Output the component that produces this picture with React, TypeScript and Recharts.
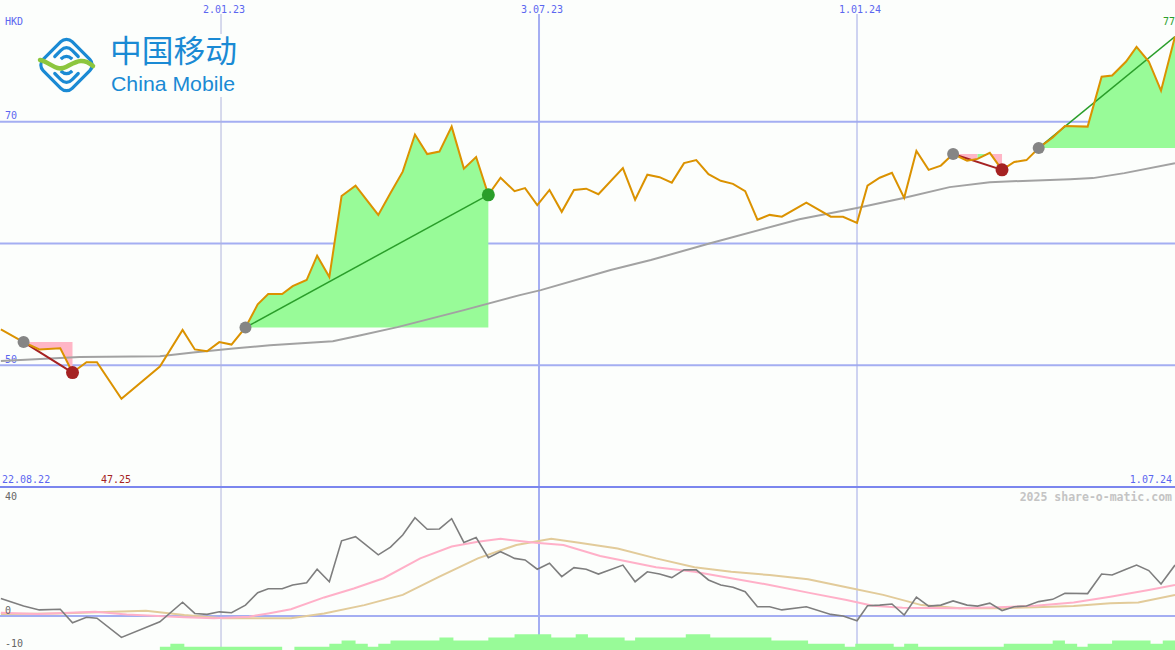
import React from 'react';
import { ComposedChart, Line, Area, XAxis, YAxis, ReferenceLine } from 'recharts';

// x values are days counted from 22.08.22
const priceDays = [
  7, 20, 29, 41, 48, 56, 62, 76, 98, 111,
  118, 125, 132, 139, 147, 154, 160, 168, 174, 182,
  188, 195, 202, 210, 223, 230, 237, 244, 251, 258,
  265, 272, 279, 286, 293, 301, 307, 314, 321, 328,
  335, 342, 349, 363, 370, 377, 384, 391, 398, 405,
  412, 419, 426, 433, 440, 447, 454, 468, 482, 489,
  497, 503, 510, 517, 524, 531, 538, 545, 552, 560,
  566, 573, 580, 587, 594, 601, 609, 616, 629, 637,
  643, 651, 657, 664, 671, 679,
];
const priceClose = [
  52.95, 51.9, 51.3, 51.4, 49.4, 50.25, 50.25, 47.25, 49.9, 52.9,
  51.3, 51.15, 51.9, 51.7, 53.1, 55.0, 55.85, 55.85, 56.5, 57.0,
  59.0, 57.25, 63.9, 64.75, 62.35, 64.15, 65.9, 68.95, 67.35, 67.55,
  69.6, 66.15, 67.1, 64.0, 65.4, 64.3, 64.55, 63.15, 64.4, 62.6,
  64.4, 64.5, 64.05, 66.2, 63.6, 65.65, 65.45, 65.0, 66.6, 66.85,
  65.7, 65.15, 64.9, 64.3, 61.95, 62.35, 62.2, 63.35, 62.2, 62.2,
  61.7, 64.75, 65.4, 65.8, 63.75, 67.6, 66.05, 66.4, 67.35, 66.8,
  66.95, 67.45, 66.05, 66.7, 66.85, 67.85, 68.7, 69.65, 69.6, 73.7,
  73.8, 74.95, 76.15, 74.95, 72.55, 77.0,
];
// distance of the close from the long average, in percent
const momentum = [
  5.5, 3.1, 1.9, 2.1, -2.1, -0.4, -0.7, -6.7, -1.8, 4.3,
  0.8, 0.5, 1.3, 1.0, 3.4, 7.3, 8.5, 8.5, 9.7, 10.4,
  14.6, 10.7, 23.5, 24.8, 19.1, 21.5, 25.3, 30.7, 27.1, 27.2,
  30.4, 23.0, 24.5, 18.2, 20.1, 18.0, 17.5, 14.6, 16.5, 12.3,
  15.1, 14.6, 13.1, 15.9, 10.7, 13.8, 13.1, 12.0, 14.4, 14.4,
  11.25, 9.7, 9.0, 7.6, 2.9, 2.9, 1.9, 2.9, 0.5, 0.0,
  -1.5, 3.2, 3.4, 3.75, 0.3, 5.9, 3.1, 3.4, 4.7, 3.4,
  3.1, 4.0, 1.7, 2.9, 3.1, 4.5, 5.2, 7.1, 7.0, 13.1,
  12.8, 14.6, 15.9, 14.2, 10.0, 15.9,
];

const maDays = [7, 52, 98, 117, 140, 161, 197, 213, 234, 272, 304, 316, 356, 379, 413, 464, 497, 523, 550, 573, 619, 632, 650, 679];
const maValues = [50.35, 50.68, 50.74, 51.05, 51.37, 51.65, 51.98, 52.47, 53.13, 54.53, 55.76, 56.17, 57.82, 58.64, 60.02, 61.99, 62.92, 63.72, 64.63, 65.04, 65.28, 65.37, 65.78, 66.6];

const fastDays = [7, 28, 61, 79, 112, 129, 149, 160, 173, 192, 209, 226, 247, 265, 280, 293, 313, 329, 350, 382, 404, 425, 447, 469, 491, 506, 523, 556, 578, 599, 621, 642, 664, 679];
const fastValues = [1.0, 0.6, 1.3, 0.5, -0.4, -0.7, -0.2, 0.8, 2.1, 5.8, 8.6, 11.8, 18.0, 21.7, 23.2, 24.1, 22.9, 22.2, 18.75, 15.2, 13.8, 11.8, 9.7, 7.3, 5.0, 3.2, 2.6, 2.4, 2.7, 3.2, 4.2, 6.0, 8.1, 9.7];

const slowDays = [7, 39, 90, 112, 134, 173, 192, 215, 237, 258, 280, 302, 322, 338, 360, 382, 404, 425, 447, 469, 491, 512, 534, 556, 578, 599, 621, 642, 658, 679];
const slowValues = [0.6, 0.8, 1.6, 0.3, -0.7, -0.7, 0.8, 3.4, 6.6, 12.3, 18.0, 22.2, 24.1, 22.9, 21.1, 18.0, 15.2, 13.8, 12.8, 11.5, 9.0, 6.6, 3.4, 2.4, 2.4, 2.7, 3.1, 4.0, 4.2, 6.6];

const volDays = [98, 104, 112, 168, 175, 195, 202, 210, 217, 223, 230, 258, 266, 286, 301, 322, 336, 343, 364, 370, 399, 413, 448, 469, 490, 496, 518, 524, 532, 581, 609, 616, 623, 629, 643, 665, 672, 679];
const volLevels = [1, 2, 1, 0, 1, 2, 3, 2, 1, 2, 3, 4, 3, 4, 5, 4, 5, 4, 3, 4, 5, 4, 3, 2, 1, 2, 1, 2, 1, 2, 3, 2, 1, 2, 3, 2, 3, 3];

// trade signals: entry day, exit day (last one still open)
const signalEntryDays = [20, 147, 552, 601];
const signalExitDays = [48, 286, 580, 679];
const signalOpen = [false, false, false, true];

const dateTicks = [133, 315, 497];
const dateTickLabels = ['2.01.23', '3.07.23', '1.01.24'];
const priceGrid = [70, 60, 50];
const priceGridLabels = ['70', '', '50'];

const W = 1175;
const TOP_H = 487;
const BOT_H = 163;
const X_DOMAIN: [number, number] = [6.5, 679];
const PRICE_DOMAIN: [number, number] = [40, 80];
const OSC_DOMAIN: [number, number] = [-10.625, 40.3];

const BG = '#fcfefc';
const GRID = '#a4aef2';
const BLUE_TEXT = '#5b66f0';
const MONO = '"DejaVu Sans Mono", monospace';
const GREEN_FILL = '#98fb98';
const PINK_FILL = '#ffb6c6';
const PROFIT = '#2a9e2a';
const LOSS = '#a52222';
const LOGO_BLUE = '#1a8ad4';
const M = { top: 0, right: 0, bottom: 0, left: 0 };

const prices = priceDays.map((day, i) => ({ day, close: priceClose[i], osc: momentum[i] }));
const maData = maDays.map((day, i) => ({ day, v: maValues[i] }));
const fastData = fastDays.map((day, i) => ({ day, v: fastValues[i] }));
const slowData = slowDays.map((day, i) => ({ day, v: slowValues[i] }));
const volData = volDays.map((day, i) => ({ day, vol: volLevels[i] }));

const closeOn = (day: number) => prices.find(p => p.day === day)!.close;

// fill between the entry level and the price, coloured per segment
type Run = { color: string; data: { day: number; band: [number, number] }[] };
const fillRuns: Run[] = [];
signalEntryDays.forEach((d0, s) => {
  const pts = prices.filter(p => p.day >= d0 && p.day <= signalExitDays[s]);
  const entry = pts[0].close;
  let cur: Run | null = null;
  for (let i = 1; i < pts.length; i++) {
    const color = pts[i].close >= entry ? GREEN_FILL : PINK_FILL;
    if (!cur || cur.color !== color) {
      cur = { color, data: [{ day: pts[i - 1].day, band: [entry, pts[i - 1].close] }] };
      fillRuns.push(cur);
    }
    cur.data.push({ day: pts[i].day, band: [entry, pts[i].close] });
  }
});

const signalLines = signalEntryDays.map((d0, s) => {
  const d1 = signalExitDays[s];
  const win = closeOn(d1) >= closeOn(d0);
  return { color: win ? PROFIT : LOSS, width: win ? 1.5 : 2, data: [{ day: d0, v: closeOn(d0) }, { day: d1, v: closeOn(d1) }] };
});
const entryDots = signalEntryDays.map(d => ({ day: d, v: closeOn(d) }));
const lossDots = signalExitDays.filter((d, s) => !signalOpen[s] && closeOn(d) < closeOn(signalEntryDays[s])).map(d => ({ day: d, v: closeOn(d) }));
const winDots = signalExitDays.filter((d, s) => !signalOpen[s] && closeOn(d) >= closeOn(signalEntryDays[s])).map(d => ({ day: d, v: closeOn(d) }));

const minClose = Math.min(...priceClose);
const lastClose = priceClose[priceClose.length - 1];

const dateLineStyle = (i: number) => (i === 1 ? { stroke: GRID, w: 2 } : { stroke: i === 0 ? '#b0b4dc' : '#a0a8e6', w: 1 });

const Logo = () => (
  <g>
    <rect x={30} y={34} width={212} height={63} fill={BG} />
    {/* icon drawn in a square frame turned by 45 degrees */}
    <g transform="translate(66.5 65) rotate(45)" fill="none" stroke={LOGO_BLUE} strokeWidth={3.2} strokeLinecap="round">
      <rect x={-20.5} y={-20.5} width={41} height={41} rx={8} />
      {[6.2, 12.4].map(o => (
        <path key={'a' + o} d={`M ${-20.5 + o} ${6 - o * 0.6} V ${-12.5 + o} Q ${-20.5 + o} ${-20.5 + o} ${-12.5 + o} ${-20.5 + o} H ${6 - o * 0.6}`} />
      ))}
      {[6.2, 12.4].map(o => (
        <path key={'b' + o} d={`M ${20.5 - o} ${-6 + o * 0.6} V ${12.5 - o} Q ${20.5 - o} ${20.5 - o} ${12.5 - o} ${20.5 - o} H ${-6 + o * 0.6}`} />
      ))}
    </g>
    <path d="M 40 60 C 50 62, 56 72, 66 67 S 82 57, 93 66" fill="none" stroke="#8cc63e" strokeWidth={4.5} strokeLinecap="round" />
    <text x={110} y={61.5} fontSize={30.5} fill={LOGO_BLUE} fontFamily='"Noto Sans CJK SC", sans-serif' textLength={127} lengthAdjust="spacingAndGlyphs">中国移动</text>
    <text x={111} y={90.5} fontSize={21} fill={LOGO_BLUE} fontFamily='"Liberation Sans", sans-serif' textLength={124} lengthAdjust="spacingAndGlyphs">China Mobile</text>
  </g>
);

const App: React.FC = () => {
  const abs = (top: number): React.CSSProperties => ({ position: 'absolute', left: 0, top });
  return (
    <div style={{ position: 'relative', width: W, height: 650, background: BG, overflow: 'hidden' }}>
      <style>{'body{margin:0}'}</style>

      {/* price panel: grid */}
      <div style={abs(0)}>
        <ComposedChart width={W} height={TOP_H} data={prices} margin={M}>
          <XAxis dataKey="day" type="number" domain={X_DOMAIN} hide allowDataOverflow />
          <YAxis type="number" domain={PRICE_DOMAIN} hide allowDataOverflow />
          {priceGrid.map((v, i) => (
            <ReferenceLine
              key={'g' + v}
              y={v}
              stroke={GRID}
              strokeWidth={2}
              label={(p: any) => (
                <text x={(p.viewBox?.x ?? 0) + 5} y={(p.viewBox?.y ?? 0) - 2.5} fill={BLUE_TEXT} fontSize={10} fontFamily={MONO}>{priceGridLabels[i]}</text>
              )}
            />
          ))}
          {dateTicks.map((d, i) => (
            <ReferenceLine
              key={'d' + d}
              segment={[{ x: d, y: 40 }, { x: d, y: 78.85 }]}
              stroke={dateLineStyle(i).stroke}
              strokeWidth={dateLineStyle(i).w}
              label={(p: any) => (
                <text x={(p.viewBox?.x ?? 0) + 3} y={12.5} fill={BLUE_TEXT} fontSize={10} fontFamily={MONO} textAnchor="middle">{dateTickLabels[i]}</text>
              )}
            />
          ))}
        </ComposedChart>
      </div>

      {/* price panel: series */}
      <div style={abs(0)}>
        <ComposedChart width={W} height={TOP_H} data={prices} margin={M}>
          <XAxis dataKey="day" type="number" domain={X_DOMAIN} hide allowDataOverflow />
          <YAxis type="number" domain={PRICE_DOMAIN} hide allowDataOverflow />
          {fillRuns.map((r, k) => (
            <Area key={'f' + k} data={r.data} dataKey="band" type="linear" stroke="none" fill={r.color} fillOpacity={1} isAnimationActive={false} activeDot={false} />
          ))}
          <Line data={maData} dataKey="v" stroke="#a2a2a2" strokeWidth={2} dot={false} activeDot={false} isAnimationActive={false} />
          {signalLines.map((s, k) => (
            <Line key={'s' + k} data={s.data} dataKey="v" stroke={s.color} strokeWidth={s.width} dot={false} activeDot={false} isAnimationActive={false} />
          ))}
          <Line data={entryDots} dataKey="v" stroke="none" strokeWidth={0} dot={{ r: 6, fill: '#858585', stroke: 'none' }} activeDot={false} isAnimationActive={false} />
          <Line data={lossDots} dataKey="v" stroke="none" strokeWidth={0} dot={{ r: 6.5, fill: LOSS, stroke: 'none' }} activeDot={false} isAnimationActive={false} />
          <Line data={winDots} dataKey="v" stroke="none" strokeWidth={0} dot={{ r: 6.5, fill: PROFIT, stroke: 'none' }} activeDot={false} isAnimationActive={false} />
          <Line dataKey="close" stroke="#db9200" strokeWidth={2} dot={false} activeDot={false} isAnimationActive={false} />
        </ComposedChart>
      </div>

      {/* oscillator panel: grid */}
      <div style={abs(TOP_H)}>
        <ComposedChart width={W} height={BOT_H} data={prices} margin={M}>
          <XAxis dataKey="day" type="number" domain={X_DOMAIN} hide allowDataOverflow />
          <YAxis type="number" domain={OSC_DOMAIN} hide allowDataOverflow />
          <ReferenceLine y={0} stroke={GRID} strokeWidth={2} />
          {dateTicks.map((d, i) => (
            <ReferenceLine key={'b' + d} x={d} stroke={dateLineStyle(i).stroke} strokeWidth={dateLineStyle(i).w} />
          ))}
        </ComposedChart>
      </div>

      {/* oscillator panel: series */}
      <div style={abs(TOP_H)}>
        <ComposedChart width={W} height={BOT_H} data={prices} margin={M}>
          <XAxis dataKey="day" type="number" domain={X_DOMAIN} hide allowDataOverflow />
          <YAxis yAxisId="osc" type="number" domain={OSC_DOMAIN} hide allowDataOverflow />
          <YAxis yAxisId="vol" type="number" domain={[0, 52]} hide allowDataOverflow />
          <Area yAxisId="vol" data={volData} dataKey="vol" type="stepAfter" stroke="none" fill={GREEN_FILL} fillOpacity={1} activeDot={false} isAnimationActive={false} />
          <Line yAxisId="osc" data={slowData} dataKey="v" stroke="#e2cb9a" strokeWidth={2} dot={false} activeDot={false} isAnimationActive={false} />
          <Line yAxisId="osc" data={fastData} dataKey="v" stroke="#ffb0c8" strokeWidth={2} dot={false} activeDot={false} isAnimationActive={false} />
          <Line yAxisId="osc" dataKey="osc" stroke="#7e7e7e" strokeWidth={1.6} dot={false} activeDot={false} isAnimationActive={false} />
        </ComposedChart>
      </div>

      <div style={{ position: 'absolute', left: 0, top: 486, width: W, height: 2, background: '#7b86ee' }} />

      {/* labels and logo */}
      <svg width={W} height={650} style={{ position: 'absolute', left: 0, top: 0, pointerEvents: 'none' }}>
        <Logo />
        <text x={5} y={24.5} fill={BLUE_TEXT} fontSize={10} fontFamily={MONO}>HKD</text>
        <text x={W} y={25} fill={PROFIT} fontSize={10} fontFamily={MONO} textAnchor="end">{String(lastClose)}</text>
        <text x={2} y={483} fill={BLUE_TEXT} fontSize={10} fontFamily={MONO}>22.08.22</text>
        <text x={116} y={483} fill={LOSS} fontSize={10} fontFamily={MONO} textAnchor="middle">{minClose.toFixed(2)}</text>
        <text x={1172} y={483} fill={BLUE_TEXT} fontSize={10} fontFamily={MONO} textAnchor="end">1.07.24</text>
        <text x={5} y={500} fill="#666" fontSize={10} fontFamily={MONO}>40</text>
        <text x={5} y={613.5} fill="#666" fontSize={10} fontFamily={MONO}>0</text>
        <text x={5} y={646.5} fill="#666" fontSize={10} fontFamily={MONO}>-10</text>
        <text x={1172} y={501} fill="#c4c4c4" fontSize={11.5} fontWeight="bold" fontFamily={MONO} textAnchor="end">2025 share-o-matic.com</text>
      </svg>
    </div>
  );
};

export default App;
